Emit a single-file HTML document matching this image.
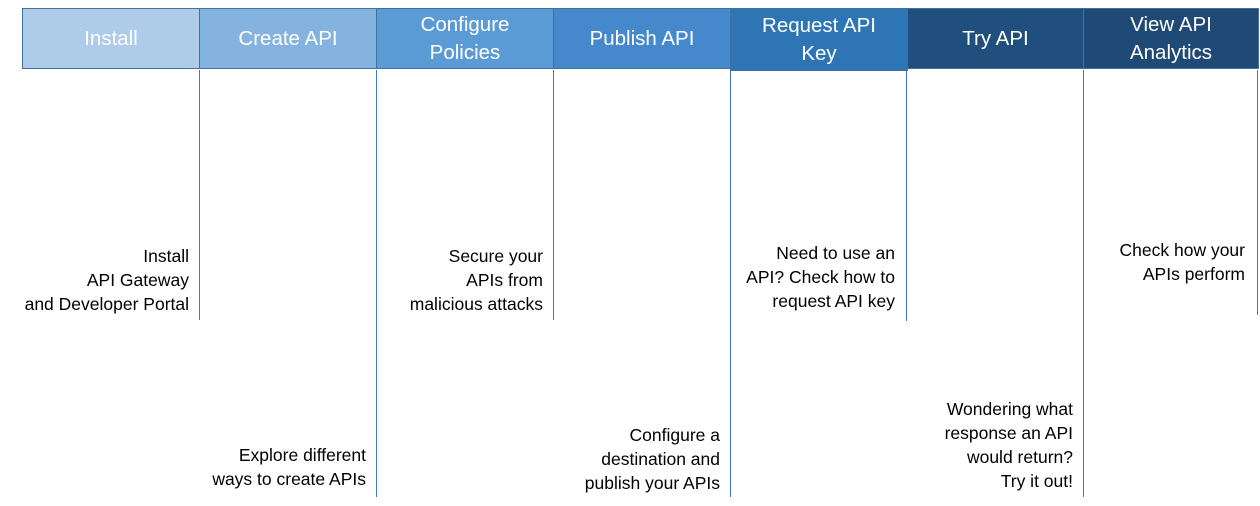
<!DOCTYPE html>
<html><head><meta charset="utf-8"><style>
body{margin:0;width:1260px;height:506px;background:#fff;position:relative;overflow:hidden;font-family:"Liberation Sans",sans-serif}
.h{position:absolute;top:8px;height:61px;border:1px solid #41719c;box-sizing:border-box;color:#fff;font-size:20.5px;line-height:28px;display:flex;align-items:center;justify-content:center;text-align:center}
.v{position:absolute;width:1px;background:#4472c4;top:70px}
.t{position:absolute;font-size:17.5px;line-height:24px;color:#000;text-align:right;white-space:nowrap}
</style></head><body>
<div class="h" style="left:22px;width:178px;background:#aecbea">Install</div>
<div class="h" style="left:199px;width:178px;background:#84b3df">Create API</div>
<div class="h" style="left:376px;width:178px;background:#5b9bd5">Configure<br>Policies</div>
<div class="h" style="left:553px;width:178px;background:#4589cc">Publish API</div>
<div class="h" style="left:730px;width:178px;height:63px;background:#2e75b6">Request API<br>Key</div>
<div class="h" style="left:907px;width:177px;background:#204f7e">Try API</div>
<div class="h" style="left:1083px;width:176px;background:#1f4a75">View API<br>Analytics</div>

<div class="v" style="left:199px;height:250px"></div>
<div class="v" style="left:376px;height:427px"></div>
<div class="v" style="left:553px;height:250px"></div>
<div class="v" style="left:730px;height:427px"></div>
<div class="v" style="left:906px;height:251px"></div>
<div class="v" style="left:1083px;height:427px"></div>
<div class="v" style="left:1257px;height:245px"></div>

<div class="t" style="right:1071px;top:244px">Install<br>API Gateway<br>and Developer Portal</div>
<div class="t" style="right:894px;top:443px">Explore different<br>ways to create APIs</div>
<div class="t" style="right:717px;top:244px">Secure your<br>APIs from<br>malicious attacks</div>
<div class="t" style="right:540px;top:423px">Configure a<br>destination and<br>publish your APIs</div>
<div class="t" style="right:365px;top:241px">Need to use an<br>API? Check how to<br>request API key</div>
<div class="t" style="right:187px;top:397px">Wondering what<br>response an API<br>would return?<br>Try it out!</div>
<div class="t" style="right:15px;top:238px">Check how your<br>APIs perform</div>
</body></html>
